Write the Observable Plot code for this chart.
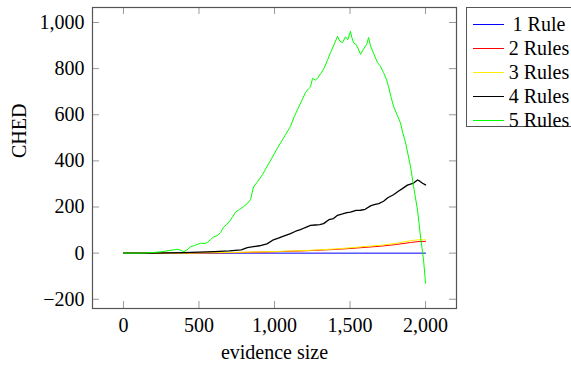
<!DOCTYPE html>
<html>
<head>
<meta charset="utf-8">
<script src="https://cdn.jsdelivr.net/npm/d3@7"></script>
<script src="https://cdn.jsdelivr.net/npm/@observablehq/plot@0.6"></script>
<style>
  html, body { margin: 0; padding: 0; background: white; overflow: hidden; }
  #wrap { position: relative; width: 571px; height: 367px; font-family: "Liberation Serif", "Times New Roman", Times, serif; }
  #wrap svg, #wrap svg text { font-family: "Liberation Serif", "Times New Roman", Times, serif !important; }
  #legend { position: absolute; left: 466px; top: 7px; width: 120px; height: 120px; border: 1px solid #555; background: white; box-sizing: border-box; padding-top: 4px; }
  .row { position: relative; height: 24px; }
  .sw { position: absolute; left: 6px; top: 12px; width: 31px; height: 0; border-top: 1px solid; }
  .lb { position: absolute; left: 41px; width: 62px; text-align: center; white-space: nowrap; font-size: 20px; line-height: 24px; top: 0; font-family: "Liberation Serif", "Times New Roman", Times, serif; }
</style>
</head>
<body>
<div id="wrap"></div>
<script>
// Data: [evidence size, CHED]
const seriesNames = ["1 Rule", "2 Rules", "3 Rules", "4 Rules", "5 Rules"];
const seriesColors = ["#0000ff", "#ff0000", "#ffee00", "#000000", "#00ff00"];

const rule1 = [[0,0],[2000,0]];

const rule2 = [[0,0],[400,0],[600,1],[800,3],[1000,6],[1200,10],[1400,16],[1500,20],[1600,25],[1700,30],[1800,37],[1900,46],[1950,50],[2000,51]];

const rule3 = [[0,0],[400,0],[600,2],[800,4],[1000,7],[1200,11],[1400,18],[1500,23],[1600,29],[1700,34],[1800,42],[1900,54],[1950,58],[2000,58]];

const rule4 = [[0,0],[200,0],[300,1],[400,2],[500,4],[600,7],[700,10],[780,14],[820,24],[860,28],[900,32],[950,40],[993,58],[1030,66],[1060,74],[1106,85],[1140,95],[1172,102],[1200,110],[1238,120],[1270,122],[1300,124],[1325,128],[1360,145],[1391,150],[1417,164],[1450,170],[1480,176],[1503,178],[1540,185],[1570,186],[1600,190],[1636,205],[1660,210],[1690,215],[1722,225],[1750,240],[1788,253],[1820,268],[1854,283],[1880,295],[1921,304],[1947,317],[1962,312],[1980,303],[2000,296]];

const rule5 = [[0,0],[100,0],[150,1],[200,3],[250,6],[300,11],[340,15],[360,17],[380,12],[400,6],[420,14],[444,28],[470,33],[510,43],[540,42],[556,47],[575,58],[596,70],[620,76],[642,88],[662,112],[685,125],[708,143],[725,160],[742,178],[770,190],[795,202],[820,215],[841,232],[852,262],[861,287],[890,312],[920,340],[950,375],[987,417],[1010,445],[1040,478],[1070,510],[1106,550],[1130,590],[1152,622],[1180,660],[1205,696],[1225,712],[1238,720],[1252,758],[1270,750],[1285,758],[1305,778],[1325,798],[1350,835],[1371,870],[1395,905],[1417,940],[1432,920],[1450,912],[1470,938],[1485,925],[1503,962],[1512,935],[1523,912],[1540,905],[1555,885],[1570,862],[1589,884],[1610,905],[1623,935],[1636,898],[1660,860],[1682,826],[1700,812],[1722,783],[1740,755],[1755,722],[1770,680],[1788,637],[1810,602],[1834,565],[1850,520],[1868,478],[1885,425],[1901,374],[1921,288],[1947,187],[1967,70],[1987,-30],[2000,-130]];

const xTicks = [0, 500, 1000, 1500, 2000];
const yTicks = [-200, 0, 200, 400, 600, 800, 1000];

const allSeries = [rule1, rule2, rule3, rule4, rule5];
const fmt = d3.format(",");

const W = 571, H = 367, ML = 92, MR = 115, MT = 7, MB = 59;
const fw = W - ML - MR, fh = H - MT - MB, tl = 7;

const lineMarks = allSeries.map((s, i) =>
  Plot.line(s, {x: d => d[0], y: d => d[1], stroke: seriesColors[i], strokeWidth: i === 3 ? 1.3 : 1})
);

const chart = Plot.plot({
  width: W, height: H,
  marginLeft: ML, marginRight: MR, marginTop: MT, marginBottom: MB,
  x: {domain: [-205, 2205]},
  y: {domain: [-240, 1065]},
  style: {fontFamily: "Liberation Serif", fontSize: "20px", background: "white", color: "#000"},
  marks: [
    Plot.tickX(xTicks, {x: d => d, stroke: "#999", insetTop: fh - tl}),
    Plot.tickX(xTicks, {x: d => d, stroke: "#999", insetBottom: fh - tl}),
    Plot.tickY(yTicks, {y: d => d, stroke: "#999", insetRight: fw - tl}),
    Plot.tickY(yTicks, {y: d => d, stroke: "#999", insetLeft: fw - tl}),
    Plot.axisX(xTicks, {tickSize: 0, tickPadding: 9, tickFormat: fmt, label: null}),
    Plot.axisY(yTicks, {tickSize: 0, tickPadding: 8, tickFormat: fmt, label: null}),
    ...lineMarks,
    Plot.frame({stroke: "#555", strokeWidth: 1.2}),
    Plot.text(["evidence size"], {text: d => d, frameAnchor: "bottom", dy: 44, lineAnchor: "middle", fill: "#000"}),
    Plot.text(["CHED"], {text: d => d, frameAnchor: "left", dx: -73, rotate: -90, lineAnchor: "middle", fill: "#000"})
  ]
});

const wrap = document.getElementById("wrap");
wrap.appendChild(chart);

// Legend
const legend = document.createElement("div");
legend.id = "legend";
seriesNames.forEach((name, i) => {
  const row = document.createElement("div");
  row.className = "row";
  const sw = document.createElement("div");
  sw.className = "sw";
  sw.style.borderTopColor = seriesColors[i];
  const lb = document.createElement("div");
  lb.className = "lb";
  lb.textContent = name;
  row.appendChild(sw);
  row.appendChild(lb);
  legend.appendChild(row);
});
wrap.appendChild(legend);
</script>
</body>
</html>
